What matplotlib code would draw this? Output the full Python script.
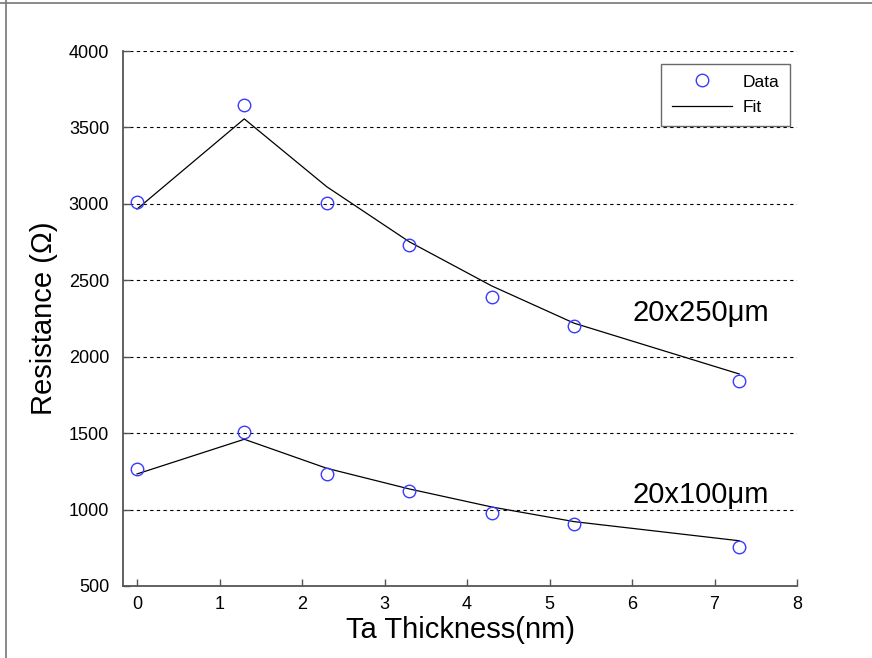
import matplotlib
matplotlib.use("Agg")
import matplotlib.pyplot as plt
from matplotlib.lines import Line2D

plt.rcParams['font.family'] = ['Liberation Sans', 'DejaVu Sans']

thickness = [0, 1.3, 2.3, 3.3, 4.3, 5.3, 7.3]
data_250 = [3015, 3648, 3006, 2731, 2393, 2201, 1841]
fit_250 = [2966, 3556, 3112, 2752, 2463, 2219, 1887]
data_100 = [1263, 1507, 1233, 1122, 976, 904, 753]
fit_100 = [1233, 1460, 1270, 1135, 1017, 921, 796]
xticks = [0, 1, 2, 3, 4, 5, 6, 7, 8]
yticks = [500, 1000, 1500, 2000, 2500, 3000, 3500, 4000]

fig = plt.figure(figsize=(8.72, 6.58), dpi=100)
ax = fig.add_axes([123/872, 1 - 586/658, (797-123)/872, (586-51)/658])

mcol = '#3a3aff'
ax.plot(thickness, data_250, 'o', mfc='none', mec=mcol, ms=9, mew=1.0, label='Data', zorder=3)
ax.plot(thickness, fit_250, '-', color='black', lw=0.9, label='Fit', zorder=2)
ax.plot(thickness, data_100, 'o', mfc='none', mec=mcol, ms=9, mew=1.0, zorder=3)
ax.plot(thickness, fit_100, '-', color='black', lw=0.9, zorder=2)

ax.set_xlim(-0.17, 8)
ax.set_ylim(500, 4000)
ax.set_xticks(xticks)
ax.set_yticks(yticks)
ax.tick_params(direction='in', length=5, width=1, colors='#555555', labelcolor='black', labelsize=13)
ax.tick_params(axis='x', pad=7)
ax.tick_params(axis='y', pad=10)

for yv in yticks:
    ax.axhline(yv, color='black', lw=0.8, ls=(0, (3, 3)), zorder=1)

for s in ['top', 'right']:
    ax.spines[s].set_visible(False)
for s in ['left', 'bottom']:
    ax.spines[s].set_color('#555555')
    ax.spines[s].set_linewidth(1.3)

ax.set_xlabel('Ta Thickness(nm)', fontsize=21, labelpad=2)
ax.set_ylabel('Resistance (\u03a9)', fontsize=21, labelpad=8)

ax.text(632, 658 - 313, '20x250\u03bcm', transform=None, fontsize=21, va='center', ha='left')
ax.text(632, 658 - 495, '20x100\u03bcm', transform=None, fontsize=21, va='center', ha='left')

leg = ax.legend(loc='upper right', bbox_to_anchor=(790/872, 1 - 64/658), bbox_transform=fig.transFigure,
                fontsize=12.5, frameon=True, fancybox=False, borderpad=0.6, handlelength=3.5,
                handletextpad=0.6, labelspacing=0.6, borderaxespad=0)
leg.get_frame().set_edgecolor('#444444')
leg.get_frame().set_linewidth(1.0)

fig.add_artist(Line2D([0, 1], [1 - 2.5/658]*2, color='#777777', lw=1.2, transform=fig.transFigure))
fig.add_artist(Line2D([6/872]*2, [0, 1], color='#777777', lw=1.2, transform=fig.transFigure))

fig.savefig('out.png', dpi=100)
